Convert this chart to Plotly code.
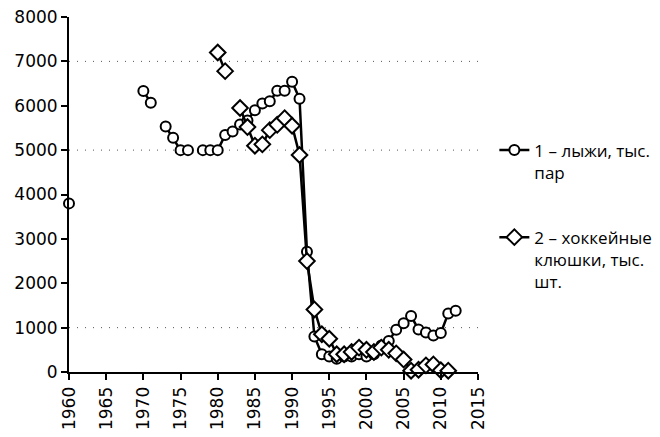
import plotly.graph_objects as go

ski_years = [1960, 1961, 1970, 1971, 1972, 1973, 1974, 1975, 1976, 1977,
             1978, 1979, 1980, 1981, 1982, 1983, 1984, 1985, 1986, 1987,
             1988, 1989, 1990, 1991, 1992, 1993, 1994, 1995, 1996, 1997,
             1998, 1999, 2000, 2001, 2002, 2003, 2004, 2005, 2006, 2007,
             2008, 2009, 2010, 2011, 2012]
ski_values = [3800, None, 6330, 6070, None, 5530, 5280, 5000, 5000, None,
              5000, 5000, 5000, 5340, 5420, 5580, 5670, 5900, 6050, 6100,
              6340, 6340, 6540, 6160, 2710, 800, 400, 350, 300, 350,
              350, 400, 350, 400, 600, 700, 950, 1100, 1260, 960,
              890, 820, 880, 1320, 1380]

stick_years = [1980, 1981, 1982, 1983, 1984, 1985, 1986, 1987, 1988, 1989,
               1990, 1991, 1992, 1993, 1994, 1995, 1996, 1997, 1998, 1999,
               2000, 2001, 2002, 2003, 2004, 2005, 2006, 2007, 2008, 2009,
               2010, 2011]
stick_values = [7200, 6780, None, 5950, 5520, 5100, 5130, 5450, 5570, 5720,
                5550, 4890, 2500, 1410, 850, 750, 400, 400, 450, 550,
                500, 450, 550, 500, 420, 280, 30, 50, 150, 170,
                40, 30]

ski_name = "1 – лыжи, тыс.<br>пар"
stick_name = "2 – хоккейные<br>клюшки, тыс.<br>шт."

x_ticks = [1960, 1965, 1970, 1975, 1980, 1985, 1990, 1995, 2000, 2005, 2010, 2015]
y_ticks = [0, 1000, 2000, 3000, 4000, 5000, 6000, 7000, 8000]
grid_levels = [1000, 5000, 7000]

TICK_FONT = "DejaVu Sans, sans-serif"
LEG_FONT = "Open Sans, DejaVu Sans, sans-serif"

fig = go.Figure()
fig.add_trace(go.Scatter(
    x=ski_years, y=ski_values, name=ski_name, mode="lines+markers",
    connectgaps=False, legendgroup="a", cliponaxis=False,
    line=dict(color="black", width=2.5),
    marker=dict(symbol="circle", size=10, color="white",
                line=dict(color="black", width=2)),
))
fig.add_trace(go.Scatter(
    x=stick_years, y=stick_values, name=stick_name, mode="lines+markers",
    connectgaps=False, legendgroup="b", cliponaxis=False,
    line=dict(color="black", width=2.5),
    marker=dict(symbol="diamond", size=12, color="white",
                line=dict(color="black", width=2)),
))

for g in grid_levels:
    fig.add_hline(y=g, line=dict(color="#555555", width=1, dash="1px,7px"), layer="below")

fig.update_layout(
    width=660, height=437,
    margin=dict(l=69, r=182, t=17, b=65, autoexpand=False),
    paper_bgcolor="white", plot_bgcolor="white",
    font=dict(family=TICK_FONT, size=17, color="black"),
    legend=dict(x=1.04, y=0.675, xanchor="left", yanchor="top",
                font=dict(family=LEG_FONT, size=17, color="black"),
                tracegroupgap=40, valign="top", itemwidth=30,
                bgcolor="rgba(0,0,0,0)"),
)
fig.update_xaxes(
    range=[1960, 2015], tickvals=x_ticks, ticktext=[str(t) for t in x_ticks],
    tickangle=-90, showgrid=False, zeroline=False, automargin=False,
    showline=True, linecolor="black", linewidth=2,
    ticks="outside", ticklen=6, tickwidth=2, tickcolor="black",
    tickfont=dict(family=TICK_FONT, size=17),
)
fig.update_yaxes(
    range=[0, 8000], tickvals=y_ticks, showgrid=False, zeroline=False, automargin=False,
    showline=True, linecolor="black", linewidth=2,
    ticks="outside", ticklen=6, tickwidth=2, tickcolor="black",
    tickfont=dict(family=TICK_FONT, size=17),
)

fig.write_html("out.html", config={"displayModeBar": False},
               post_script="document.body.style.margin='0';")
